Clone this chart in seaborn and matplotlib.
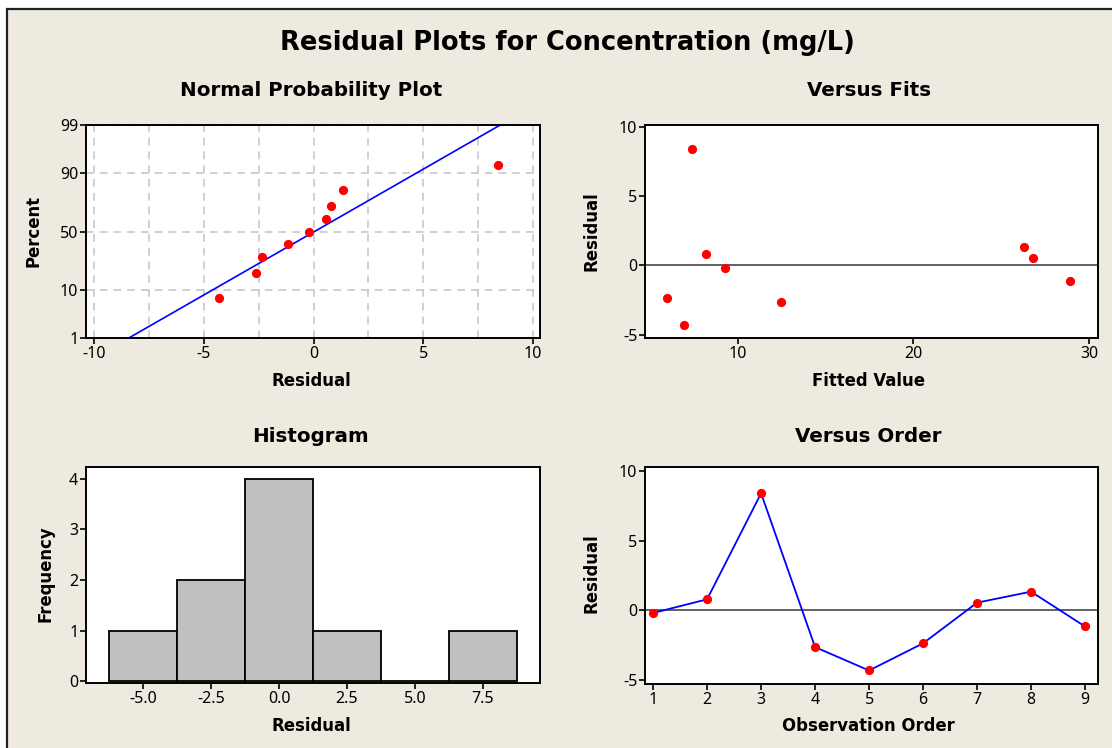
import numpy as np
import pandas as pd
import matplotlib
matplotlib.use("Agg")
import matplotlib.pyplot as plt
from matplotlib.patches import Rectangle
from matplotlib.ticker import FixedLocator, MultipleLocator, NullFormatter
import seaborn as sns
from statistics import NormalDist

# Nine observations of the regression, in run order
observation = [1, 2, 3, 4, 5, 6, 7, 8, 9]
fitted = [9.28, 8.18, 7.39, 12.46, 6.95, 5.97, 26.83, 26.27, 28.90]
residual = [-0.19, 0.79, 8.40, -2.64, -4.32, -2.37, 0.55, 1.34, -1.16]

# Histogram bins and probability-axis ticks
hist_edges = [-6.25, -3.75, -1.25, 1.25, 3.75, 6.25, 8.75]
percent_ticks = [1, 10, 50, 90, 99]

sns.set_theme(style="ticks")
plt.rcParams["font.family"] = ["Noto Sans", "DejaVu Sans"]
plt.rcParams["axes.unicode_minus"] = False

W, H = 1112, 748
BG = "#EEEAE0"
fig = plt.figure(figsize=(W / 100, H / 100), dpi=100, facecolor="white")
fig.patches.append(Rectangle((7 / W, -0.05), 1.1, 1 - 9 / H + 0.05,
                             transform=fig.transFigure, facecolor=BG,
                             edgecolor="#222222", linewidth=1.6, zorder=-10))


def px_axes(left, top, right, bottom):
    return fig.add_axes([left / W, 1 - bottom / H, (right - left) / W, (bottom - top) / H])


def style(ax):
    ax.set_facecolor("white")
    for s in ax.spines.values():
        s.set_visible(True)
        s.set_color("black")
        s.set_linewidth(1.4)
    ax.tick_params(which="major", direction="out", length=4, width=1.2,
                   colors="black", labelsize=11.5, pad=1.5)
    ax.tick_params(which="minor", length=0)
    ax.set_xlabel("")
    ax.set_ylabel("")
    ax.set_axisbelow(True)


def ftext(x, y, s, size=12, rot=0):
    fig.text(x / W, 1 - y / H, s, ha="center", va="center", fontsize=size,
             fontweight="bold", rotation=rot, color="black", family=["DejaVu Sans"])


df = pd.DataFrame({"obs": observation, "fit": fitted, "res": residual})
nd = NormalDist()
n = len(df)

# Normal probability plot: median ranks on a normal-quantile axis
npp = df.sort_values("res").reset_index(drop=True)
npp["z"] = [nd.inv_cdf((i - 0.3) / (n + 0.4)) for i in range(1, n + 1)]
mu, sd = df["res"].mean(), df["res"].std(ddof=1)
z_line = np.array([nd.inv_cdf(0.002), nd.inv_cdf(0.998)])
ref = pd.DataFrame({"x": mu + sd * z_line, "z": z_line})

ax1 = px_axes(86, 125, 540, 338)
ax1.xaxis.set_minor_locator(MultipleLocator(2.5))
ax1.xaxis.set_minor_formatter(NullFormatter())
ax1.grid(True, which="both", axis="x", color="#C4C4C4", linestyle=(0, (5, 4)), linewidth=1.1)
ax1.grid(True, which="major", axis="y", color="#C4C4C4", linestyle=(0, (5, 4)), linewidth=1.1)
sns.lineplot(data=ref, x="x", y="z", color="#0000FF", linewidth=1.2, ax=ax1)
sns.scatterplot(data=npp, x="res", y="z", color="#FF0000", s=44, linewidth=0, ax=ax1, zorder=3)
ax1.set_xlim(-10.37, 10.32)
ax1.set_ylim(nd.inv_cdf(0.01), nd.inv_cdf(0.99))
ax1.set_xticks([-10, -5, 0, 5, 10])
ax1.yaxis.set_major_locator(FixedLocator([nd.inv_cdf(p / 100) for p in percent_ticks]))
ax1.set_yticklabels([str(p) for p in percent_ticks])
style(ax1)

# Residuals versus fitted values
ax2 = px_axes(645, 125, 1098, 338)
ax2.axhline(0, color="#555555", linewidth=1.3, zorder=1)
sns.scatterplot(data=df, x="fit", y="res", color="#FF0000", s=44, linewidth=0, ax=ax2, zorder=3)
ax2.set_xlim(4.73, 30.5)
ax2.set_ylim(-5.24, 10.12)
ax2.set_xticks([10, 20, 30])
ax2.set_yticks([-5, 0, 5, 10])
style(ax2)

# Histogram of residuals
ax3 = px_axes(86, 467, 540, 683)
sns.histplot(data=df, x="res", bins=hist_edges, color="#C0C0C0", edgecolor="black",
             linewidth=1.3, alpha=1, ax=ax3)
ax3.set_xlim(-7.1, 9.6)
ax3.set_ylim(-0.03, 4.23)
ax3.set_xticks([-5, -2.5, 0, 2.5, 5, 7.5])
ax3.set_xticklabels(["-5.0", "-2.5", "0.0", "2.5", "5.0", "7.5"])
ax3.set_yticks([0, 1, 2, 3, 4])
style(ax3)

# Residuals in observation order
ax4 = px_axes(645, 467, 1098, 684)
ax4.axhline(0, color="#555555", linewidth=1.3, zorder=1)
sns.lineplot(data=df, x="obs", y="res", color="#0000FF", linewidth=1.3, ax=ax4, zorder=2)
sns.scatterplot(data=df, x="obs", y="res", color="#FF0000", s=44, linewidth=0, ax=ax4, zorder=3)
ax4.set_xlim(0.85, 9.24)
ax4.set_ylim(-5.29, 10.29)
ax4.set_xticks(observation)
ax4.set_yticks([-5, 0, 5, 10])
style(ax4)

# Titles and axis labels
ftext(567, 43, "Residual Plots for Concentration (mg/L)", size=18.5)
ftext(311, 91, "Normal Probability Plot", size=14.3)
ftext(869, 91, "Versus Fits", size=14.3)
ftext(311, 436, "Histogram", size=14.3)
ftext(868, 436, "Versus Order", size=14.3)
ftext(311, 381, "Residual", size=11.9)
ftext(868, 381, "Fitted Value", size=11.9)
ftext(311, 726, "Residual", size=11.9)
ftext(868, 726, "Observation Order", size=11.9)
ftext(34, 231, "Percent", size=11.9, rot=90)
ftext(46, 574, "Frequency", size=11.9, rot=90)
ftext(592, 231, "Residual", size=11.9, rot=90)
ftext(592, 573, "Residual", size=11.9, rot=90)

fig.savefig("out.png", dpi=100, facecolor=fig.get_facecolor())
